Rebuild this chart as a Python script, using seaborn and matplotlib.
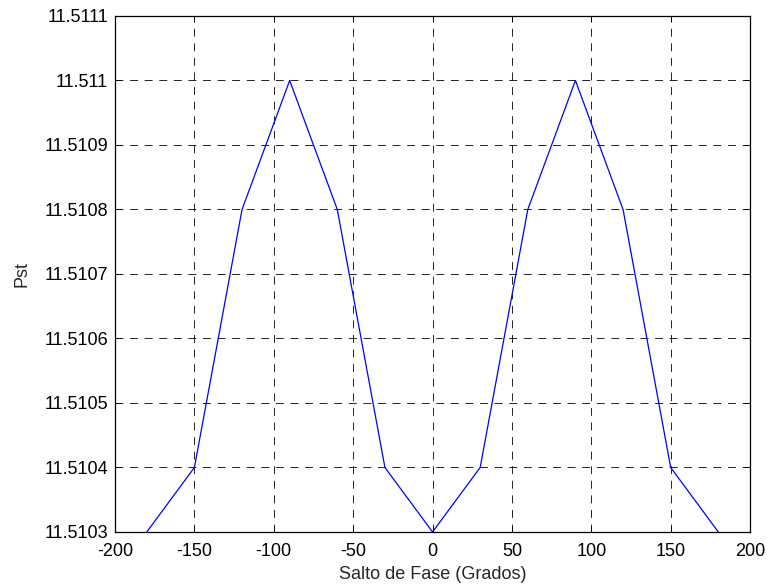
import matplotlib
matplotlib.use("Agg")
import matplotlib.pyplot as plt
import seaborn as sns
import pandas as pd
from matplotlib.ticker import FixedLocator, FuncFormatter

# Phase jump (degrees) and resulting Pst
salto = [-180, -150, -120, -90, -60, -30, 0, 30, 60, 90, 120, 150, 180]
pst = [11.5103, 11.5104, 11.5108, 11.5110, 11.5108, 11.5104, 11.5103,
       11.5104, 11.5108, 11.5110, 11.5108, 11.5104, 11.5103]

x_ticks = [-200, -150, -100, -50, 0, 50, 100, 150, 200]
y_ticks = [11.5103, 11.5104, 11.5105, 11.5106, 11.5107, 11.5108, 11.5109, 11.5110, 11.5111]

sns.set_style("white")
plt.rcParams['font.family'] = ['Liberation Sans', 'DejaVu Sans']

df = pd.DataFrame({"Salto de Fase (Grados)": salto, "Pst": pst})

fig = plt.figure(figsize=(7.7, 5.86), dpi=100)
ax = fig.add_axes([0.1494, 0.0922, 0.8247, 0.8805])

sns.lineplot(data=df, x="Salto de Fase (Grados)", y="Pst", ax=ax,
             color="#0000ff", linewidth=0.9, estimator=None, sort=False)

ax.set_xlim(-200, 200)
ax.set_ylim(11.5103, 11.5111)
ax.xaxis.set_major_locator(FixedLocator(x_ticks))
ax.yaxis.set_major_locator(FixedLocator(y_ticks))
ax.xaxis.set_major_formatter(FuncFormatter(lambda v, p: f"{v:g}"))
ax.yaxis.set_major_formatter(FuncFormatter(lambda v, p: f"{round(v, 4):.4f}".rstrip("0").rstrip(".")))

ax.grid(True, color="black", linestyle=(0, (9.5, 8)), linewidth=0.6)
for s in ax.spines.values():
    s.set_color("black")
    s.set_linewidth(0.9)

ax.tick_params(direction="in", length=4, width=0.6, colors="black",
               labelsize=13, top=True, right=True, bottom=True, left=True)
ax.tick_params(axis="x", pad=8)
ax.tick_params(axis="y", pad=5)
ax.set_xlabel("Salto de Fase (Grados)", fontsize=13, labelpad=4)
ax.set_ylabel("Pst", fontsize=13, labelpad=10)

fig.savefig("out.png", dpi=100)
